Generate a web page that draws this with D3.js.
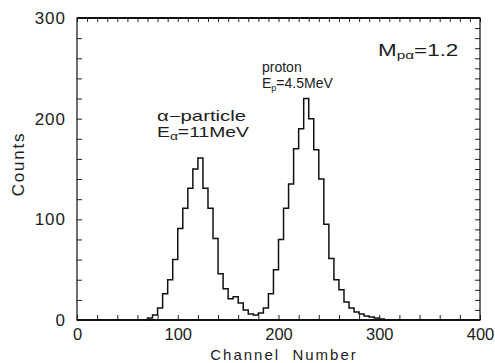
<!DOCTYPE html>
<html><head><meta charset="utf-8">
<script src="https://cdn.jsdelivr.net/npm/d3@7/dist/d3.min.js"></script>
<style>
body{margin:0;background:#fff}
svg{display:block}
text{font-family:"Liberation Sans",Arial,sans-serif;fill:#1c1c1c}
</style>
</head><body>
<svg id="c" width="495" height="363"></svg>
<script>
// Histogram bins: left edge channel and counts (bin width 5 channels)
const channels = [65,70,75,80,85,90,95,100,105,110,115,120,125,130,135,140,145,150,155,160,165,170,175,180,185,190,195,200,205,210,215,220,225,230,235,240,245,250,255,260,265,270,275,280,285,290,295,300,305];
const counts   = [0, 2, 5, 12,26,40,60, 91, 111,131,150,161,131,111, 81, 46, 31, 21, 23, 17, 10,  6,  5,  7, 12, 26, 50, 80,111,135,170,190,220,200,169,140, 95, 61, 40, 30, 18, 12,  8,  6,  4,  3,  2,  1,  0];
const binWidth = 5;
const xTickValues = [0,100,200,300,400];
const yTickValues = [0,100,200,300];
const xMinorTicks = [0,20,40,60,80,100,120,140,160,180,200,220,240,260,280,300,320,340,360,380,400];
const xTopTicks = [0,10,20,30,40,50,60,70,80,90,100,110,120,130,140,150,160,170,180,190,200,210,220,230,240,250,260,270,280,290,300,310,320,330,340,350,360,370,380,390,400];
const yLeftTicks = [0,20,40,60,80,100,120,140,160,180,200,220,240,260,280,300];
const yRightTicks = [0,10,20,30,40,50,60,70,80,90,100,110,120,130,140,150,160,170,180,190,200,210,220,230,240,250,260,270,280,290,300];
const xLabel = "Channel  Number";
const yLabel = "Counts";

const svg = d3.select("#c");
const x = d3.scaleLinear().domain([0,400]).range([77,480]);
const y = d3.scaleLinear().domain([0,300]).range([320,18]);

// ticks (inward)
function tickAxis(axis, tx, ty, vals, size){
  const g = svg.append("g").attr("transform",`translate(${tx},${ty})`)
    .call(axis.tickValues(vals).tickSizeInner(size).tickSizeOuter(0).tickFormat(""));
  g.select(".domain").remove();
  g.selectAll(".tick line").attr("stroke","#222").attr("stroke-width",1);
  return g;
}
tickAxis(d3.axisBottom(x), 0, y(0), xMinorTicks, -5);
tickAxis(d3.axisTop(x), 0, y(300), xTopTicks, -4);
tickAxis(d3.axisLeft(y), x(0), 0, yLeftTicks, -5);
tickAxis(d3.axisRight(y), x(400), 0, yRightTicks, -5);

// frame
svg.append("rect").attr("x",x(0)).attr("y",y(300))
  .attr("width",x(400)-x(0)).attr("height",y(0)-y(300))
  .attr("fill","none").attr("stroke","#111").attr("stroke-width",1.2);
svg.append("line").attr("x1",x(0)).attr("x2",x(400)).attr("y1",y(0)).attr("y2",y(0))
  .attr("stroke","#111").attr("stroke-width",2);
svg.append("line").attr("x1",x(0)).attr("x2",x(400)).attr("y1",y(300)).attr("y2",y(300))
  .attr("stroke","#111").attr("stroke-width",1.8);

// histogram
const pts = channels.map((c,i)=>[c,counts[i]]);
pts.push([channels[channels.length-1]+binWidth, 0]);
const line = d3.line().x(d=>x(d[0])).y(d=>y(d[1])).curve(d3.curveStepAfter);
svg.append("path").datum(pts).attr("d",line)
  .attr("fill","none").attr("stroke","#111").attr("stroke-width",1.5);

// tick labels
const xl = svg.append("g").attr("transform",`translate(0,${y(0)})`)
  .call(d3.axisBottom(x).tickValues(xTickValues).tickSize(0).tickPadding(8));
xl.select(".domain").remove();
xl.selectAll("text").attr("font-size",16.5).attr("font-family",null).attr("fill","#1c1c1c");
const yl = svg.append("g").attr("transform",`translate(${x(0)},0)`)
  .call(d3.axisLeft(y).tickValues(yTickValues).tickSize(0).tickPadding(11));
yl.select(".domain").remove();
yl.selectAll("text").attr("font-size",17).attr("font-family",null).attr("letter-spacing",1)
  .attr("fill","#1c1c1c");

// axis titles
svg.append("text").attr("x",284).attr("y",359.5).attr("text-anchor","middle")
  .attr("font-size",15).attr("letter-spacing",2).style("white-space","pre").text(xLabel);
svg.append("text").attr("transform","translate(24,164) rotate(-90)").attr("text-anchor","middle")
  .attr("font-size",17).attr("letter-spacing",1.8).text(yLabel);

// annotations
function scaledText(tx, ty, sx, size){
  return svg.append("text").attr("transform",`translate(${tx},${ty}) scale(${sx},1)`).attr("font-size",size);
}
const a1 = scaledText(157,121,1.45,14);
a1.text("α−particle");
const a2 = scaledText(157,136.5,1.38,14);
a2.append("tspan").text("E");
a2.append("tspan").attr("font-size",10).attr("dy",3).text("α");
a2.append("tspan").attr("dy",-3).text("=11MeV");

svg.append("text").attr("x",262).attr("y",72).attr("font-size",14).text("proton");
const p2 = svg.append("text").attr("x",262).attr("y",87.5).attr("font-size",14);
p2.append("tspan").text("E");
p2.append("tspan").attr("font-size",9).attr("dy",3).text("p");
p2.append("tspan").attr("dy",-3).text("=4.5MeV");

const m = scaledText(378,56,1.4,16);
m.append("tspan").text("M");
m.append("tspan").attr("font-size",11).attr("dy",3).text("pα");
m.append("tspan").attr("dy",-3).text("=1.2");
</script>
</body></html>
